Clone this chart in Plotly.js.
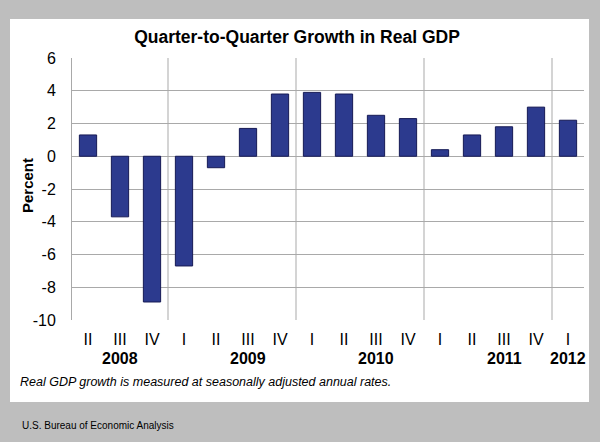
<!DOCTYPE html>
<html>
<head>
<meta charset="utf-8">
<script src="https://cdn.plot.ly/plotly-3.0.1.min.js"></script>
<style>
html,body{margin:0;padding:0;background:#bebebe;}
#chart{width:600px;height:442px;}
</style>
</head>
<body>
<div id="chart"></div>
<script>
// Data
var years    = ['2008','2008','2008','2009','2009','2009','2009','2010','2010','2010','2010','2011','2011','2011','2011','2012'];
var quarters = ['II','III','IV','I','II','III','IV','I','II','III','IV','I','II','III','IV','I'];
var growth   = [1.3, -3.7, -8.9, -6.7, -0.7, 1.7, 3.8, 3.9, 3.8, 2.5, 2.3, 0.4, 1.3, 1.8, 3.0, 2.2];
var yearLabels   = ['2008','2009','2010','2011','2012'];
var yearLabelQtr = ['III','III','III','III','I'];
var yTicks = [-10,-8,-6,-4,-2,0,2,4,6];

var categories = years.map(function(y,i){ return y + ' ' + quarters[i]; });

var FONT = 'Liberation Sans, Arial, sans-serif';
var GRID = '#a9a9a9';

// Plot frame in pixels (layout only)
var L = 72, R = 584, T = 58, B = 320, WW = 600, HH = 442;
var PW = R - L, PH = B - T;
function px(x){ return (x - L) / PW; }
function py(y){ return (B - y) / PH; }

var shapes = [{
  type:'rect', xref:'paper', yref:'paper', layer:'below',
  x0:px(10), x1:px(589), y0:py(402), y1:py(19),
  fillcolor:'#ffffff', line:{width:0}
}];
// year dividers between Q IV and Q I
for (var i = 1; i < categories.length; i++) {
  if (years[i] !== years[i-1]) {
    shapes.push({type:'line', xref:'x', yref:'paper', layer:'below',
      x0:i-0.5, x1:i-0.5, y0:0, y1:1, line:{color:GRID, width:1}});
  }
}

var annotations = [];
yearLabels.forEach(function(y, k){
  annotations.push({
    xref:'x', yref:'paper', x: y + ' ' + yearLabelQtr[k], y: py(358),
    yanchor:'middle', xanchor:'center', showarrow:false,
    text:'<b>' + y + '</b>', font:{family:FONT, size:16, color:'#000'}
  });
});
annotations.push({
  xref:'paper', yref:'paper', x:px(27), y:py(186), xanchor:'center', yanchor:'middle',
  textangle:-90, showarrow:false, text:'<b>Percent</b>',
  font:{family:FONT, size:15, color:'#000'}
});
annotations.push({
  xref:'paper', yref:'paper', x:px(18), y:py(382), xanchor:'left', yanchor:'middle',
  showarrow:false, text:'<i>Real GDP growth is measured at seasonally adjusted annual rates.</i>',
  font:{family:FONT, size:12.5, color:'#000'}
});
annotations.push({
  xref:'paper', yref:'paper', x:px(20), y:py(425), xanchor:'left', yanchor:'middle',
  showarrow:false, text:'U.S. Bureau of Economic Analysis',
  font:{family:FONT, size:10, color:'#000'}
});

var trace = {
  type:'bar', x:categories, y:growth,
  marker:{color:'#2c3a8e', line:{color:'#161a55', width:1}},
  hoverinfo:'skip'
};

var layout = {
  width:WW, height:HH,
  margin:{l:L, r:WW-R, t:T, b:HH-B, pad:0},
  paper_bgcolor:'#bebebe', plot_bgcolor:'rgba(0,0,0,0)',
  showlegend:false, bargap:0.46,
  title:{text:'<b>Quarter-to-Quarter Growth in Real GDP</b>', x:297/WW, xref:'container', xanchor:'center',
         y:1-37/HH, yref:'container', yanchor:'middle', font:{family:FONT, size:17.5, color:'#000'}},
  xaxis:{type:'category', tickmode:'array', tickvals:categories, ticktext:quarters,
         showgrid:false, zeroline:false, showline:false, ticks:'',
         tickfont:{family:FONT, size:16, color:'#000'}, ticklabelstandoff:8,
         range:[-0.5, categories.length-0.5]},
  yaxis:{range:[-10,6], tickmode:'array', tickvals:yTicks, ticktext:yTicks.map(String),
         showgrid:true, gridcolor:GRID, gridwidth:1, zeroline:false,
         showline:true, linecolor:GRID, linewidth:1, ticks:'',
         tickfont:{family:FONT, size:16, color:'#000'}, ticklabelstandoff:12},
  shapes:shapes, annotations:annotations
};

Plotly.newPlot('chart', [trace], layout, {displayModeBar:false, staticPlot:true});
</script>
</body>
</html>
